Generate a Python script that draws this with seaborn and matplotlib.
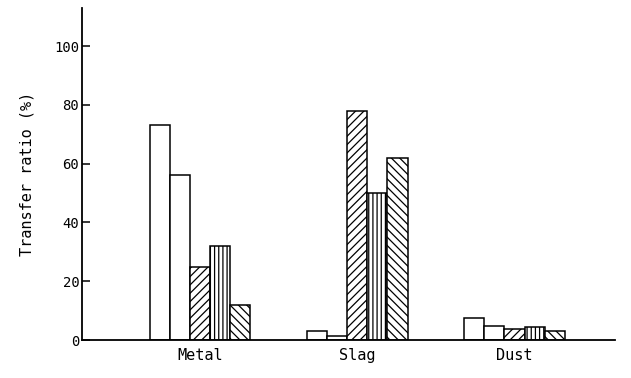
import pandas as pd
import seaborn as sns
import matplotlib.pyplot as plt

sns.set_theme(style="white")
plt.rcParams["font.family"] = ["DejaVu Sans Mono", "DejaVu Sans"]
plt.rcParams["hatch.linewidth"] = 0.9
plt.rcParams["text.color"] = "black"
plt.rcParams["axes.labelcolor"] = "black"
plt.rcParams["xtick.color"] = "black"
plt.rcParams["ytick.color"] = "black"

# transfer ratio (%), one list per bar series
phases = ["Metal", "Slag", "Dust"]
series = ["s1", "s2", "s3", "s4", "s5"]
s1 = [73, 3, 7.4]
s2 = [56, 1.4, 4.8]
s3 = [25, 78, 3.6]
s4 = [32, 50, 4.5]
s5 = [12, 62, 3.2]
hatches = ["", "", "////", "||||", "\\\\\\\\"]

rows = []
for name, vals in zip(series, [s1, s2, s3, s4, s5]):
    for ph, v in zip(phases, vals):
        rows.append({"phase": ph, "series": name, "ratio": v})
data = pd.DataFrame(rows)

fig = plt.figure(figsize=(6.31, 3.78), dpi=100)
ax = fig.add_axes([0.13, 0.1005, 0.845, 0.8785])

sns.barplot(
    data=data,
    x="phase",
    y="ratio",
    hue="series",
    order=phases,
    hue_order=series,
    width=0.64,
    palette=["white"] * 5,
    edgecolor="black",
    linewidth=1.1,
    legend=False,
    ax=ax,
)
for cont, h in zip(ax.containers, hatches):
    for bar in cont:
        bar.set_hatch(h)

ax.set_xlim(-0.75, 2.64)
ax.set_ylim(0, 113)
ax.set_yticks([0, 20, 40, 60, 80, 100])
ax.set_xlabel("")
ax.set_ylabel("Transfer ratio (%)", fontsize=11, labelpad=14)
ax.tick_params(axis="y", direction="in", length=6, width=1.1, labelsize=10, pad=2, left=True)
ax.tick_params(axis="x", length=0, labelsize=11, pad=6)
sns.despine(ax=ax)
for s in ["left", "bottom"]:
    ax.spines[s].set_color("black")
    ax.spines[s].set_linewidth(1.3)

fig.savefig("out.png", dpi=100)
plt.close()
